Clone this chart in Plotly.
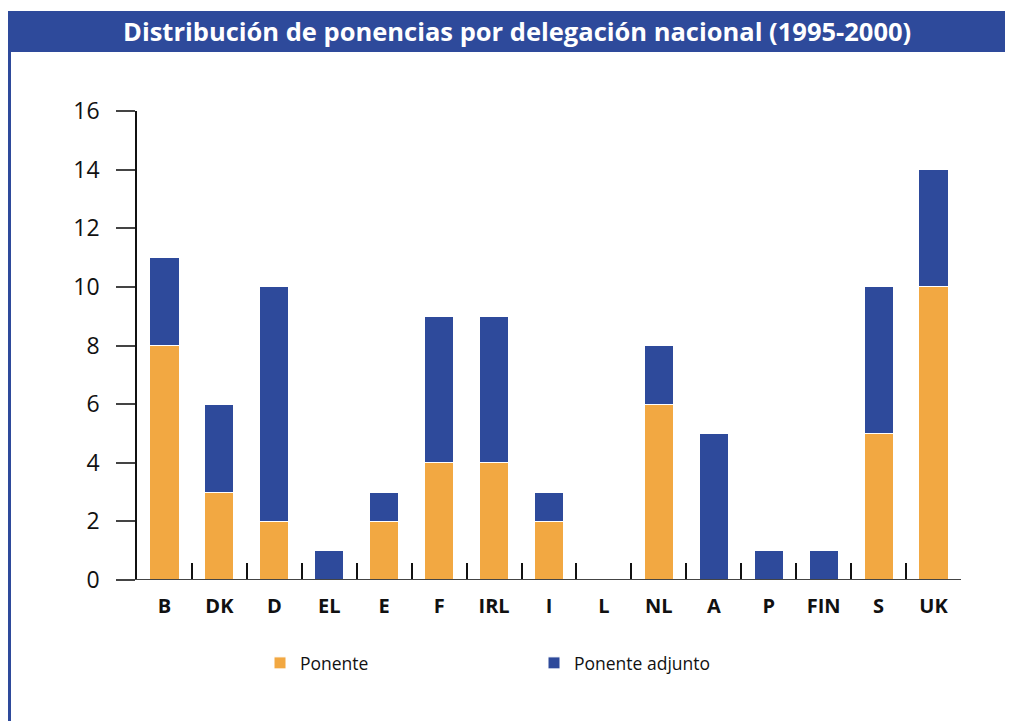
import plotly.graph_objects as go

categories = ["B", "DK", "D", "EL", "E", "F", "IRL", "I", "L", "NL", "A", "P", "FIN", "S", "UK"]
ponente = [8, 3, 2, 0, 2, 4, 4, 2, 0, 6, 0, 0, 0, 5, 10]
ponente_adjunto = [3, 3, 8, 1, 1, 5, 5, 1, 0, 2, 5, 1, 1, 5, 4]
y_ticks = [0, 2, 4, 6, 8, 10, 12, 14, 16]
title_text = "Distribución de ponencias por delegación nacional (1995-2000)"

# page offset of the plot div (body margin)
OFF = 8
W, H = 1013 - OFF, 721 - OFF
PL, PR, PT, PB = 137, 961, 111, 580  # plot area in page pixels
PW, PH = PR - PL, PB - PT

def px_x(x):
    return (x - PL) / PW

def px_y(y):
    return (PB - y) / PH

ORANGE = "#F2A842"
BLUE = "#2E4A9B"
FONT = "Open Sans"

fig = go.Figure()
fig.add_trace(go.Bar(x=categories, y=ponente, name="Ponente",
                     marker=dict(color=ORANGE, line=dict(color="white", width=1))))
fig.add_trace(go.Bar(x=categories, y=ponente_adjunto, name="Ponente adjunto",
                     marker=dict(color=BLUE, line=dict(color="white", width=1))))

fig.update_layout(
    width=W, height=H,
    margin=dict(l=PL - OFF, r=1013 - PR, t=PT - OFF, b=721 - PB, pad=0),
    barmode="stack", bargap=0.47,
    plot_bgcolor="white", paper_bgcolor="white",
    font=dict(family=FONT, color="#111111"),
    showlegend=True,
    legend=dict(orientation="h", x=px_x(260), y=px_y(663), xanchor="left", yanchor="middle",
                font=dict(size=17.5, family=FONT, color="#111111"),
                entrywidth=229, entrywidthmode="pixels", traceorder="normal"),
    xaxis=dict(type="category", showgrid=False, showline=False, zeroline=False,
               ticks="inside", tickson="boundaries", ticklen=17, tickwidth=1.5, tickcolor="#111111",
               tickfont=dict(size=20, family=FONT, color="#111111", weight="bold"),
               ticklabelstandoff=12),
    yaxis=dict(range=[0, 16], tickvals=y_ticks, showgrid=False, zeroline=False,
               showline=True, linecolor="#111111", linewidth=1.5,
               ticks="outside", ticklen=19, tickwidth=2, tickcolor="#444444",
               tickfont=dict(size=23, family=FONT, color="#111111"),
               ticklabelstandoff=12),
    shapes=[
        dict(type="rect", xref="paper", yref="paper", x0=px_x(4), x1=px_x(1013),
             y0=px_y(52), y1=px_y(11), fillcolor=BLUE, line=dict(width=0), layer="below"),
        dict(type="line", xref="paper", yref="paper", x0=px_x(9.5), x1=px_x(9.5),
             y0=px_y(721), y1=px_y(52), line=dict(color=BLUE, width=3)),
        dict(type="line", xref="paper", yref="y", x0=px_x(118), x1=1, y0=0, y1=0,
             line=dict(color="#444444", width=2)),
    ],
    annotations=[
        dict(text="<b>" + title_text + "</b>", xref="paper", yref="paper",
             x=px_x(517), y=px_y(31), xanchor="center", yanchor="middle", showarrow=False,
             font=dict(size=25.5, family=FONT, color="white")),
    ],
)

fig.write_html("out.html")
